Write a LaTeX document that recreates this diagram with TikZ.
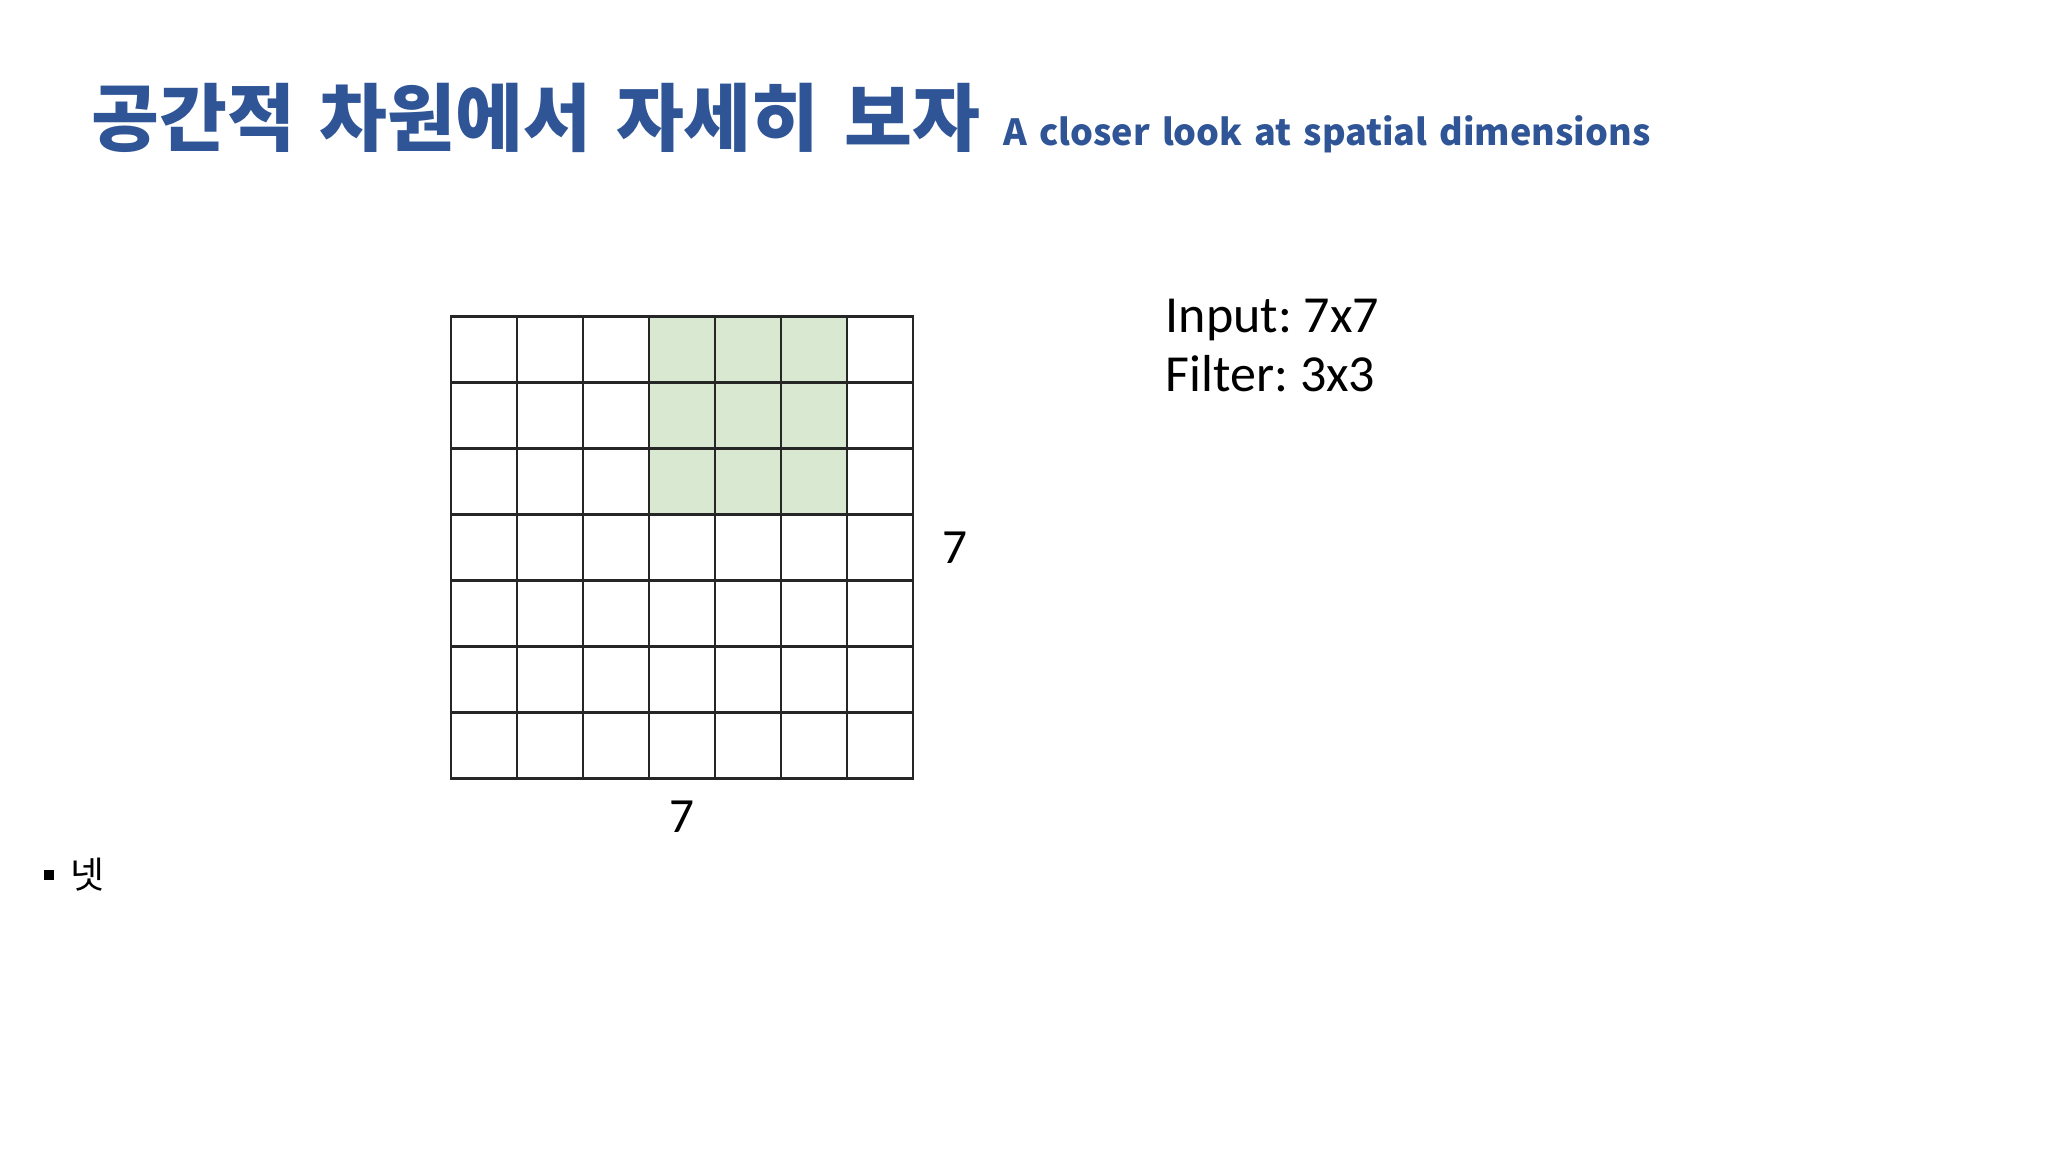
\documentclass[tikz,border=0pt]{standalone}
\usepackage{fontspec}
\setmainfont{Carlito}
\newfontfamily\kofont{Noto Sans CJK KR}
\newfontfamily\kotitle{Noto Sans CJK KR}[WordSpace=1.45]
\usetikzlibrary{positioning}
\definecolor{titleblue}{HTML}{2F5597}
\definecolor{filtergreen}{HTML}{D9E8D0}
\frenchspacing
\tikzset{
	every picture/.style={
		x=0.1mm, y=-0.1mm,
		node distance=3mm
}}
\begin{document}
\begin{tikzpicture}
\tikzstyle{cell}=[rectangle, draw=black!85, line width=0.7pt, minimum size=6.596mm, inner sep=0, fill=white]
\tikzstyle{hot}=[cell, fill=filtergreen]
\tikzstyle{dim}=[inner sep=0, font=\fontsize{14}{14}\selectfont]
\tikzstyle{head}=[anchor=base west, inner sep=0, text=titleblue]
\fill[white] (0,0) rectangle (2048,1152);
\useasboundingbox (0,0) rectangle (2048,1152);
% title
\node[head, font=\kotitle\bfseries\fontsize{21}{24}\selectfont] (title) at (91,146) {공간적 차원에서 자세히 보자};
\node[head, font=\kofont\bfseries\fontsize{10.25}{13}\selectfont] (sub) at (1003,146) {A closer look at spatial dimensions};
% input 7x7
\foreach \i in {1,...,7}
  \foreach \j in {1,...,7}
    \node[cell] (c\i\j) at ({451+65.96*(\j-0.5)},{316.7+65.96*(\i-0.5)}) {};
% filter 3x3
\foreach \i in {1,2,3}
  \foreach \j in {4,5,6}
    \node[hot] (c\i\j) at ({451+65.96*(\j-0.5)},{316.7+65.96*(\i-0.5)}) {};
\node[dim, right=2.8mm of c47] (rows) {7};
\node[dim, below=2.1mm of c74] (cols) {7};
\node[anchor=north west, inner sep=0, align=left, font=\fontsize{14.8}{17}\selectfont] (spec) at (1165,298) {Input: 7x7\\Filter: 3x3};
% bullet
\node[fill=black, minimum size=1mm, inner sep=0] (dot) at (49,875) {};
\node[right=1.5mm of dot, inner sep=0, font=\kofont\fontsize{10.5}{12}\selectfont] (item) {넷};
\end{tikzpicture}
\end{document}
